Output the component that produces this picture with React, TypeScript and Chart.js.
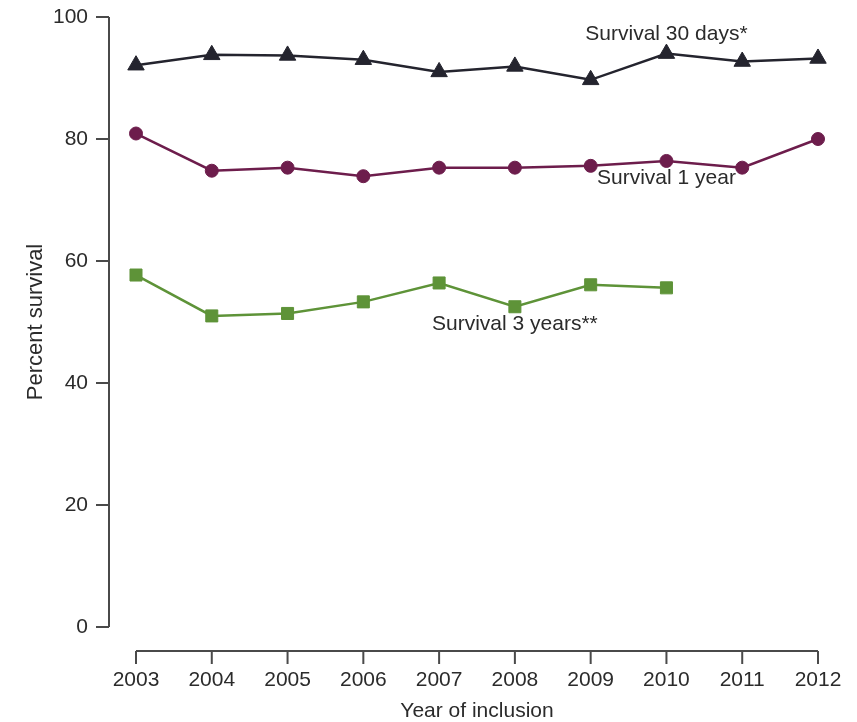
import React, { useEffect, useRef } from "react";
import { Chart, registerables } from "chart.js";

Chart.register(...registerables);

const years = ["2003", "2004", "2005", "2006", "2007", "2008", "2009", "2010", "2011", "2012"];
const survival30Days = [92.1, 93.8, 93.7, 93.0, 91.0, 91.9, 89.7, 94.0, 92.7, 93.2];
const survival1Year = [80.9, 74.8, 75.3, 73.9, 75.3, 75.3, 75.6, 76.4, 75.3, 80.0];
const survival3Years = [57.7, 51.0, 51.4, 53.3, 56.4, 52.5, 56.1, 55.6];
const yTicks = [0, 20, 40, 60, 80, 100];

const seriesLabels = [
  { text: "Survival 30 days*", yearIndex: 7.0, value: 97.1 },
  { text: "Survival 1 year", yearIndex: 7.0, value: 73.6 },
  { text: "Survival 3 years**", yearIndex: 5.0, value: 49.7 },
];

const FONT = "'Liberation Sans', Arial, Helvetica, sans-serif";
const TEXT = "#2b2b2b";
const AXIS = "#4a4a4a";

const axesPlugin = {
  id: "customAxes",
  beforeDatasetsDraw(chart: any) {
    const { ctx, chartArea } = chart;
    const xs = chart.scales.x;
    const ys = chart.scales.y;
    ctx.save();
    ctx.strokeStyle = AXIS;
    ctx.lineWidth = 2;
    // y axis
    const axX = chartArea.left - 27;
    const yTop = ys.getPixelForValue(100);
    const yBot = ys.getPixelForValue(0);
    ctx.beginPath();
    ctx.moveTo(axX, yTop);
    ctx.lineTo(axX, yBot);
    yTicks.forEach((t) => {
      const py = ys.getPixelForValue(t);
      ctx.moveTo(axX, py);
      ctx.lineTo(axX - 13, py);
    });
    ctx.stroke();
    // x axis
    const axY = chartArea.bottom + 24;
    const x0 = xs.getPixelForValue(0);
    const x1 = xs.getPixelForValue(years.length - 1);
    ctx.beginPath();
    ctx.moveTo(x0, axY);
    ctx.lineTo(x1, axY);
    years.forEach((_, i) => {
      const px = xs.getPixelForValue(i);
      ctx.moveTo(px, axY);
      ctx.lineTo(px, axY + 13);
    });
    ctx.stroke();
    // titles
    ctx.fillStyle = TEXT;
    ctx.font = `21px ${FONT}`;
    ctx.textAlign = "center";
    ctx.textBaseline = "middle";
    ctx.fillText("Year of inclusion", (x0 + x1) / 2, chart.height - 11);
    ctx.save();
    ctx.font = `22px ${FONT}`;
    ctx.translate(36, (yTop + yBot) / 2);
    ctx.rotate(-Math.PI / 2);
    ctx.fillText("Percent survival", 0, 0);
    ctx.restore();
    ctx.restore();
  },
  afterDatasetsDraw(chart: any) {
    const { ctx } = chart;
    const xs = chart.scales.x;
    const ys = chart.scales.y;
    ctx.save();
    ctx.fillStyle = TEXT;
    ctx.font = `21px ${FONT}`;
    ctx.textAlign = "center";
    ctx.textBaseline = "middle";
    seriesLabels.forEach((l) => {
      const i0 = Math.floor(l.yearIndex);
      const x0 = xs.getPixelForValue(i0);
      const x1 = xs.getPixelForValue(Math.min(i0 + 1, years.length - 1));
      const px = x0 + (x1 - x0) * (l.yearIndex - i0);
      ctx.fillText(l.text, px, ys.getPixelForValue(l.value));
    });
    ctx.restore();
  },
};

function zeroPad(s: any) {
  s.paddingTop = 0;
  s.paddingBottom = 0;
  s.paddingLeft = 0;
  s.paddingRight = 0;
}

export default function App() {
  const ref = useRef<HTMLCanvasElement>(null);
  useEffect(() => {
    if (!ref.current) return;
    const chart = new Chart(ref.current, {
      type: "line",
      data: {
        labels: years,
        datasets: [
          {
            label: "Survival 30 days*",
            data: survival30Days,
            borderColor: "#24242e",
            backgroundColor: "#24242e",
            pointBackgroundColor: "#24242e",
            pointBorderColor: "#24242e",
            pointStyle: "triangle",
            pointRadius: 9.5,
            pointBorderWidth: 1,
            borderWidth: 2.5,
          },
          {
            label: "Survival 1 year",
            data: survival1Year,
            borderColor: "#6d1d4c",
            backgroundColor: "#6d1d4c",
            pointBackgroundColor: "#6d1d4c",
            pointBorderColor: "#6d1d4c",
            pointStyle: "circle",
            pointRadius: 6.5,
            pointBorderWidth: 1,
            borderWidth: 2.5,
          },
          {
            label: "Survival 3 years**",
            data: survival3Years,
            borderColor: "#5e9338",
            backgroundColor: "#5e9338",
            pointBackgroundColor: "#5e9338",
            pointBorderColor: "#5e9338",
            pointStyle: "rect",
            pointRadius: 8.5,
            pointBorderWidth: 1,
            borderWidth: 2.5,
          },
        ],
      },
      options: {
        responsive: false,
        animation: false,
        layout: { autoPadding: false, padding: { left: 0, right: 39, top: 17, bottom: 0 } },
        plugins: { legend: { display: false }, tooltip: { enabled: false } },
        scales: {
          x: {
            type: "category",
            offset: false,
            grid: { display: false, drawTicks: false },
            border: { display: false },
            afterFit: (s: any) => {
              s.height = 95;
              zeroPad(s);
            },
            ticks: {
              padding: 41,
              color: TEXT,
              font: { family: FONT, size: 21 },
              maxRotation: 0,
              autoSkip: false,
            },
          },
          y: {
            min: 0,
            max: 100,
            grid: { display: false, drawTicks: false },
            border: { display: false },
            afterFit: (s: any) => {
              s.width = 136;
              zeroPad(s);
            },
            afterBuildTicks: (s: any) => {
              s.ticks = yTicks.map((v) => ({ value: v }));
            },
            ticks: {
              padding: 48,
              color: TEXT,
              font: { family: FONT, size: 21 },
            },
          },
        },
      },
      plugins: [axesPlugin],
    });
    return () => chart.destroy();
  }, []);
  return (
    <div style={{ position: "absolute", left: 0, top: 0, width: 857, height: 722 }}>
      <canvas ref={ref} width={857} height={722} />
    </div>
  );
}
